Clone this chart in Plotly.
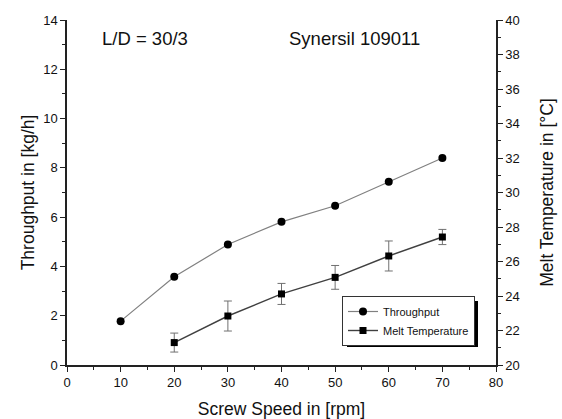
import plotly.graph_objects as go

# Data
speed_throughput = [10, 20, 30, 40, 50, 60, 70]
throughput = [1.78, 3.58, 4.89, 5.81, 6.46, 7.44, 8.40]

speed_melt = [20, 30, 40, 50, 60, 70]
melt_temp = [21.30, 22.84, 24.12, 25.08, 26.32, 27.42]
melt_err = [0.55, 0.87, 0.61, 0.69, 0.87, 0.44]

FONT = "Arial, Liberation Sans, sans-serif"
W, H = 562, 419
ML, MR, MT, MB = 67, 66, 20, 54
PW, PH = W - ML - MR, H - MT - MB


def px_x(p):
    return (p - ML) / PW


def px_y(p):
    return (H - MB - p) / PH


# legend box (pixel estimates of plotly's rendered legend)
LEG_L, LEG_T, LEG_W, LEG_H = 342, 296, 131, 46
SH = 5  # shadow offset

fig = go.Figure()

fig.add_trace(go.Scatter(
    x=speed_throughput, y=throughput, name="Throughput",
    mode="lines+markers",
    line=dict(color="#808080", width=1.2),
    marker=dict(symbol="circle", size=8, color="black"),
    yaxis="y",
))

fig.add_trace(go.Scatter(
    x=speed_melt, y=melt_temp, name="Melt Temperature",
    mode="lines+markers",
    line=dict(color="#404040", width=1.4),
    marker=dict(symbol="square", size=7, color="black"),
    error_y=dict(type="data", array=melt_err, visible=True,
                 color="#707070", thickness=1, width=4),
    yaxis="y2",
))

axis_common = dict(
    showline=True, linecolor="#222", linewidth=1.5,
    ticks="outside", ticklen=5, tickwidth=1.3, tickcolor="#222",
    showgrid=False, zeroline=False, automargin=False,
    tickfont=dict(family=FONT, size=13, color="#111"),
    title_font=dict(family=FONT, size=17.5, color="#111"),
)

fig.update_layout(
    width=W, height=H,
    margin=dict(l=ML, r=MR, t=MT, b=MB),
    paper_bgcolor="white", plot_bgcolor="white",
    font=dict(family=FONT, color="#111"),
    xaxis=dict(range=[0, 80], dtick=10, tick0=0,
               title=dict(text="Screw Speed in [rpm]", standoff=16),
               minor=dict(dtick=5, ticks="outside", ticklen=3, tickcolor="#222"),
               **axis_common),
    yaxis=dict(range=[0, 14], dtick=2, tick0=0,
               title=dict(text="Throughput in [kg/h]", standoff=4),
               minor=dict(dtick=1, ticks="outside", ticklen=3, tickcolor="#222"),
               **axis_common),
    yaxis2=dict(range=[20, 40], dtick=2, tick0=20, overlaying="y", side="right",
                title=dict(text="Melt Temperature in [°C]", standoff=22),
                minor=dict(dtick=1, ticks="outside", ticklen=3, tickcolor="#222"),
                **axis_common),
    legend=dict(x=px_x(LEG_L), y=px_y(LEG_T), xanchor="left", yanchor="top",
                bgcolor="white", bordercolor="#333", borderwidth=1,
                font=dict(family=FONT, size=11, color="#111"),
                tracegroupgap=0, itemwidth=30),
    showlegend=True,
    annotations=[
        dict(text="L/D = 30/3", x=px_x(100), y=px_y(38), xref="paper", yref="paper",
             xanchor="left", yanchor="middle", showarrow=False,
             font=dict(family=FONT, size=18.5, color="#111")),
        dict(text="Synersil 109011", x=px_x(287), y=px_y(38), xref="paper", yref="paper",
             xanchor="left", yanchor="middle", showarrow=False,
             font=dict(family=FONT, size=18.5, color="#111")),
    ],
    shapes=[
        dict(type="rect", xref="paper", yref="paper",
             x0=px_x(LEG_L + SH), x1=px_x(LEG_L + LEG_W + SH),
             y0=px_y(LEG_T + LEG_H + SH), y1=px_y(LEG_T + SH),
             fillcolor="black", line=dict(width=0), layer="above"),
    ],
)

fig.write_html("out.html")
